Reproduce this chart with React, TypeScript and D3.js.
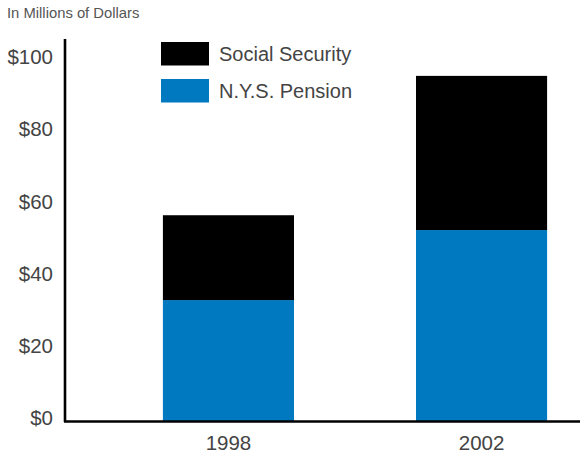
import React from 'react';
import * as d3 from 'd3';

const years = ['1998', '2002'];
const pension = [33.5, 52.9];
const socialSecurity = [23.5, 42.7];
const yTicks = [0, 20, 40, 60, 80, 100];
const legendItems = [
    { label: 'Social Security', color: '#000000' },
    { label: 'N.Y.S. Pension', color: '#0079c1' },
];

const width = 583;
const height = 458;
const font = '"Liberation Sans", Arial, sans-serif';

const App: React.FC = () => {
    const x = d3.scaleBand<string>()
        .domain(years)
        .range([130, 580])
        .paddingInner(0.482)
        .paddingOuter(0.13);

    const y = d3.scaleLinear()
        .domain([0, 100])
        .range([421, 60]);

    const rows = years.map((year, i) => ({
        year,
        pension: pension[i],
        social: socialSecurity[i],
    }));

    const stacked = d3.stack<typeof rows[number]>()
        .keys(['pension', 'social'])(rows);
    const colors = ['#0079c1', '#000000'];

    return (
        <svg
            width={width}
            height={height}
            style={{ position: 'absolute', left: 0, top: 0, background: '#fff' }}
            fontFamily={font}
        >
            <text x={7} y={18} fontSize={14.8} fill="#555">In Millions of Dollars</text>

            {stacked.map((layer, li) => (
                <g key={layer.key} fill={colors[li]}>
                    {layer.map((d, i) => (
                        <rect
                            key={years[i]}
                            x={x(years[i])}
                            width={x.bandwidth()}
                            y={y(d[1])}
                            height={y(d[0]) - y(d[1])}
                        />
                    ))}
                </g>
            ))}

            {/* axes */}
            <line x1={65} x2={65} y1={39} y2={422} stroke="#000" strokeWidth={2.6} />
            <line x1={64} x2={580} y1={421.5} y2={421.5} stroke="#000" strokeWidth={2.6} />

            {yTicks.map(t => (
                <text
                    key={t}
                    x={53}
                    y={y(t) - 3}
                    dy="0.35em"
                    textAnchor="end"
                    fontSize={20.5}
                    fill="#444"
                >
                    ${t}
                </text>
            ))}

            {years.map(yr => (
                <text
                    key={yr}
                    x={(x(yr) ?? 0) + x.bandwidth() / 2}
                    y={450}
                    textAnchor="middle"
                    fontSize={20.5}
                    fill="#444"
                >
                    {yr}
                </text>
            ))}

            {legendItems.map((item, i) => (
                <g key={item.label} transform={`translate(161, ${42 + i * 37})`}>
                    <rect width={48} height={23.5} fill={item.color} />
                    <text x={58} y={12} dy="0.35em" fontSize={20} fill="#444">
                        {item.label}
                    </text>
                </g>
            ))}
        </svg>
    );
};

export default App;
